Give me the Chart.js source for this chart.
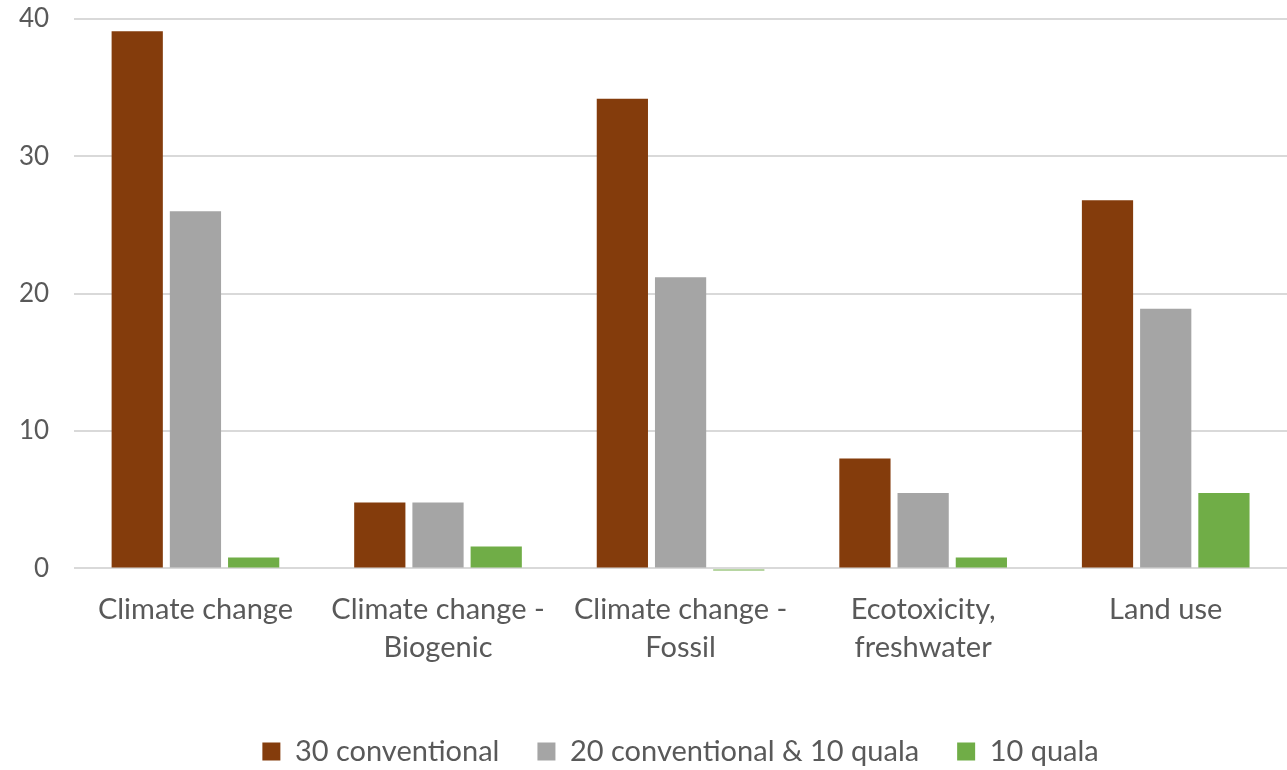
<!DOCTYPE html>
<html>
<head>
<meta charset="utf-8">
<script src="https://cdn.jsdelivr.net/npm/chart.js@4.4.1/dist/chart.umd.min.js"></script>
<style>
  html, body { margin: 0; padding: 0; background: #ffffff; }
  #wrap { width: 1287px; height: 770px; position: relative; }
</style>
</head>
<body>
<div id="wrap"><canvas id="chart"></canvas></div>
<script>
// Impact categories (x axis)
const categories = [
  'Climate change',
  ['Climate change -', 'Biogenic'],
  ['Climate change -', 'Fossil'],
  ['Ecotoxicity,', 'freshwater'],
  'Land use'
];

// Scenario series
const seriesNames = ['30 conventional', '20 conventional & 10 quala', '10 quala'];
const conventional30 = [39.1, 4.8, 34.2, 8.0, 26.8];
const mixed20_10 = [26.0, 4.8, 21.2, 5.5, 18.9];
const quala10 = [0.8, 1.6, -0.15, 0.8, 5.5];

// Value axis ticks
const yTicks = [0, 10, 20, 30, 40];

const colors = ['#843C0C', '#A5A5A5', '#70AD47'];
const FONT = 'Lato, "Open Sans", sans-serif';
const TEXT = '#595959';

const seriesValues = [conventional30, mixed20_10, quala10];

new Chart(document.getElementById('chart'), {
  type: 'bar',
  data: {
    labels: categories,
    datasets: seriesNames.map((name, i) => ({
      label: name,
      data: seriesValues[i],
      backgroundColor: colors[i],
      borderWidth: 0,
      categoryPercentage: 0.72,
      barPercentage: 0.88,
      clip: false
    }))
  },
  options: {
    responsive: true,
    maintainAspectRatio: false,
    animation: false,
    layout: { padding: { top: 0, right: 0, bottom: -6, left: -6 } },
    plugins: {
      tooltip: { enabled: false },
      legend: {
        position: 'bottom',
        fullSize: false,
        labels: {
          color: TEXT,
          font: { family: FONT, size: 29 },
          boxWidth: 18,
          boxHeight: 18,
          padding: 38
        }
      }
    },
    scales: {
      x: {
        grid: { display: false },
        border: { display: false },
        afterFit: (scale) => { scale.height += 18; },
        ticks: {
          color: TEXT,
          font: { family: FONT, size: 29, lineHeight: 1.32 },
          maxRotation: 0,
          autoSkip: false,
          padding: 14
        }
      },
      y: {
        min: 0,
        max: 40,
        afterBuildTicks: (axis) => { axis.ticks = yTicks.map(v => ({ value: v })); },
        // keep the top tick label's space tight above the plot
        afterFit: (scale) => { scale.paddingTop = 19; },
        grid: { color: '#D9D9D9', lineWidth: 2, drawTicks: false },
        border: { display: false },
        ticks: {
          color: TEXT,
          font: { family: FONT, size: 26, lineHeight: 1 },
          padding: 25
        }
      }
    }
  }
});
</script>
</body>
</html>
